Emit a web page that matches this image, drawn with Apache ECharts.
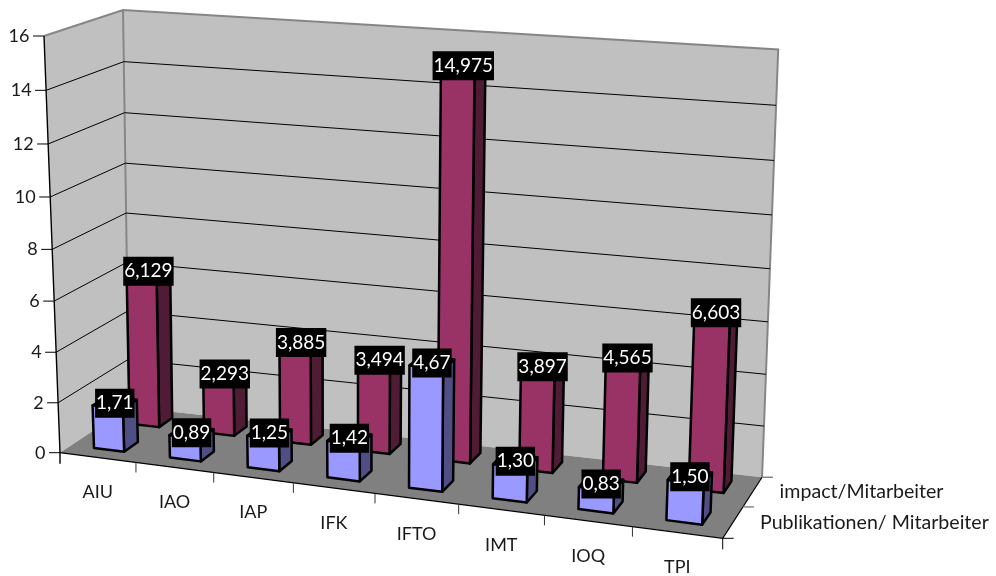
<!DOCTYPE html>
<html>
<head>
<meta charset="utf-8">
<style>html,body{margin:0;padding:0;background:#fff}#chart{width:996px;height:576px}</style>
<script src="https://cdn.jsdelivr.net/npm/echarts@6/dist/echarts.min.js"></script>
</head>
<body>
<div id="chart"></div>
<script>
// Institute names along the front edge of the floor
const categories = ['AIU', 'IAO', 'IAP', 'IFK', 'IFTO', 'IMT', 'IOQ', 'TPI'];
// Front row: publications per employee
const publikationen = [1.71, 0.89, 1.25, 1.42, 4.67, 1.30, 0.83, 1.50];
// Back row: impact per employee
const impact = [6.129, 2.293, 3.885, 3.494, 14.975, 3.897, 4.565, 6.603];
const rowNames = ['Publikationen/ Mitarbeiter', 'impact/Mitarbeiter'];
const valueTicks = [0, 2, 4, 6, 8, 10, 12, 14, 16];

const FONT = 'Lato, "Open Sans", sans-serif';
const BAR_WIDTH = 0.4;   // share of a category band
const BAR_DEPTH = 0.2;   // share of the floor depth
const ROW_CENTRES = [0.26, 0.78];

// Projective camera: (u along categories, d into the depth, v up the value axis), each 0..1
const O = [60, 452.7], U = [722.7, 538.3], D = [129, 407], V = [44, 36];
const cu = -0.094, cd = 0.0527, cv = -0.047;
const ex = -3, ey = -5.9, exLeft = 6;
const A = [0, 1].map(k => ({
  o: O[k],
  u: U[k] * (1 + cu) - O[k],
  d: D[k] * (1 + cd) - O[k],
  v: V[k] * (1 + cv) - O[k]
}));
function project(u, d, v) {
  const w = 1 + cu * u + cd * d + cv * v;
  return [
    (A[0].o + A[0].u * u + A[0].d * d + A[0].v * v + ex * u * d * v + exLeft * (1 - u) * d * v) / w,
    (A[1].o + A[1].u * u + A[1].d * d + A[1].v * v + ey * u * d * (1 - v)) / w
  ];
}

// Plot-space fractions from the axes' own scales
function fractions(params, api, cat, val) {
  const c = api.coord([cat, val]);
  const s = params.coordSys;
  return {
    u: (c[0] - s.x) / s.width,
    v: (s.y + s.height - c[1]) / s.height,
    band: api.size([1, 0])[0] / s.width
  };
}
const poly = (points, fill, stroke, lineWidth) => ({
  type: 'polygon',
  shape: { points },
  style: { fill, stroke: stroke || null, lineWidth: lineWidth || 0, lineJoin: 'round' }
});
const line = (points, stroke, lineWidth) => ({
  type: 'polyline',
  shape: { points },
  style: { fill: null, stroke, lineWidth: lineWidth || 1 }
});
const label = (x, y, text, align, size) => ({
  type: 'text',
  style: {
    x, y, text, align: align || 'center', verticalAlign: 'middle',
    font: (size || 18) + 'px ' + FONT, fill: '#1a1a1a'
  }
});

// Walls and floor
function renderRoom() {
  const edge = '#868686';
  return {
    type: 'group',
    children: [
      poly([project(0, 0, 0), project(0, 1, 0), project(0, 1, 1), project(0, 0, 1)], '#c0c0c0'),
      poly([project(0, 1, 0), project(1, 1, 0), project(1, 1, 1), project(0, 1, 1)], '#c0c0c0'),
      poly([project(0, 0, 0), project(1, 0, 0), project(1, 1, 0), project(0, 1, 0)], '#808080'),
      line([project(0, 0, 1), project(0, 1, 1), project(1, 1, 1), project(1, 1, 0)], edge, 2),
      line([project(0, 1, 1), project(0, 1, 0)], edge, 2)
    ]
  };
}

// Gridline across both walls, with the tick and its number on the left axis
function renderValueTick(params, api) {
  const t = api.value(1);
  const v = fractions(params, api, 0, t).v;
  const front = project(0, 0, v);
  const children = [
    line([[front[0] - 11, front[1]], front], '#000', 1),
    label(front[0] - 14.5, front[1], String(t), 'right', 18)
  ];
  if (t > 0 && t < 16) {
    children.push(line([front, project(0, 1, v), project(1, 1, v)], '#000', 1));
  }
  return { type: 'group', children };
}

// Outer axis lines of the room
function renderFrame() {
  const a = project(0, 0, 0), b = project(1, 0, 0), c = project(1, 1, 0), top = project(0, 0, 1);
  const mid = project(1, 0.5, 0);
  return {
    type: 'group',
    children: [
      line([top, a, [a[0], a[1] + 11]], '#000', 1.4),
      line([a, b, c], '#000', 1.2),
      line([[b[0], b[1]], [b[0] + 11, b[1]]], '#000', 1),
      line([[b[0], b[1]], [b[0], b[1] + 11]], '#000', 1),
      line([mid, [mid[0] + 11, mid[1]]], '#808080', 1.4),
      line([c, [c[0] + 11, c[1]]], '#808080', 1.4)
    ]
  };
}

// Category tick on the front edge and the name below it
function renderCategory(params, api) {
  const i = api.value(0);
  const f = fractions(params, api, i, 0);
  const tick = project(f.u + f.band / 2, 0, 0);
  const mid = project(f.u, 0, 0);
  const children = [label(mid[0], mid[1] + 35, categories[i])];
  if (i < categories.length - 1) {
    children.push(line([tick, [tick[0], tick[1] + 10]], '#333', 1));
  }
  return { type: 'group', children };
}

// Solid box standing on the floor at one row of the depth axis
function barRenderer(depth, front, side, top) {
  return function (params, api) {
    const f = fractions(params, api, api.value(0), api.value(1));
    const u0 = f.u - f.band * BAR_WIDTH / 2, u1 = f.u + f.band * BAR_WIDTH / 2;
    const d0 = depth - BAR_DEPTH / 2, d1 = depth + BAR_DEPTH / 2;
    const k = '#000', lw = 2.5;
    return {
      type: 'group',
      children: [
        poly([project(u0, d0, f.v), project(u1, d0, f.v), project(u1, d1, f.v), project(u0, d1, f.v)], top, k, lw),
        poly([project(u1, d0, 0), project(u1, d1, 0), project(u1, d1, f.v), project(u1, d0, f.v)], side, k, lw),
        poly([project(u0, d0, 0), project(u1, d0, 0), project(u1, d0, f.v), project(u0, d0, f.v)], front, k, lw)
      ]
    };
  };
}

// White value on a black plate centred on the bar top
function valueLabelRenderer(depth, digits) {
  return function (params, api) {
    const f = fractions(params, api, api.value(0), api.value(1));
    const p = project(f.u, depth, f.v);
    return {
      type: 'text',
      style: {
        x: p[0], y: p[1] + 0.5,
        text: api.value(1).toFixed(digits).replace('.', ','),
        align: 'center', verticalAlign: 'middle',
        font: '19px ' + FONT, fill: '#fff',
        backgroundColor: '#000', padding: [5, 1, 5, 1]
      }
    };
  };
}

// Row names beside the right floor edge
function renderRowName(params, api) {
  const r = api.value(0);
  const p = project(1, r === 0 ? 0.25 : 0.75, 0);
  return label(p[0] + 27, p[1], rowNames[r], 'left', 19.6);
}

const pairs = values => values.map((v, i) => [i, v]);
const custom = (name, data, renderItem, z) => ({
  type: 'custom', name, data, renderItem, z, clip: false, silent: true, animation: false
});

const chart = echarts.init(document.getElementById('chart'), null, { renderer: 'canvas' });
chart.setOption({
  backgroundColor: '#fff',
  animation: false,
  grid: { left: 100, right: 100, top: 50, bottom: 100 },
  xAxis: { type: 'category', data: categories, show: false },
  yAxis: { type: 'value', min: 0, max: 16, interval: 2, show: false },
  series: [
    custom('room', [[0, 0]], renderRoom, 1),
    custom('value axis', valueTicks.map(t => [0, t]), renderValueTick, 2),
    custom('axis frame', [[0, 0]], renderFrame, 3),
    custom('categories', categories.map((c, i) => [i, 0]), renderCategory, 3),
    custom(rowNames[1], pairs(impact), barRenderer(ROW_CENTRES[1], '#993366', '#4f1b35', '#7a2952'), 4),
    custom(rowNames[0], pairs(publikationen), barRenderer(ROW_CENTRES[0], '#9999ff', '#4f4f85', '#7a7acc'), 5),
    custom('impact values', pairs(impact), valueLabelRenderer(ROW_CENTRES[1], 3), 6),
    custom('publication values', pairs(publikationen), valueLabelRenderer(ROW_CENTRES[0], 2), 7),
    custom('row names', [[0, 0], [1, 0]], renderRowName, 3)
  ]
});
</script>
</body>
</html>
